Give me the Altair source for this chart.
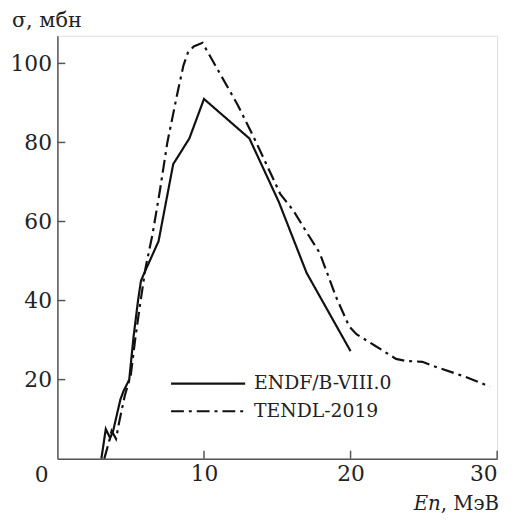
import altair as alt
import pandas as pd

# ---- data ----
series_names = ["ENDF/B-VIII.0", "TENDL-2019"]

endf_e = [3.0, 3.3, 3.6, 3.8, 4.3, 4.5, 4.9, 5.2, 5.5, 5.7, 6.05, 6.9, 7.9, 9.0, 10.0, 13.1, 15.1, 17.0, 20.0]
endf_s = [0.0, 7.5, 5.2, 7.0, 15.0, 17.0, 20.0, 31.0, 40.0, 45.0, 48.0, 55.0, 74.5, 81.0, 91.0, 81.0, 65.0, 47.0, 27.2]

tendl_e = [3.2, 3.5, 3.7, 4.0, 4.2, 4.6, 5.0, 5.3, 5.6, 6.0, 6.5, 7.0, 7.5, 8.2, 8.6, 8.9, 9.3, 9.9,
           12.3, 13.5, 15.2, 16.1, 16.8, 17.9, 19.0, 19.9, 20.4, 21.7, 23.1, 23.75, 24.9, 25.6, 27.8, 29.5]
tendl_s = [0.0, 4.0, 7.0, 5.0, 9.0, 16.0, 21.0, 30.0, 38.0, 48.0, 57.0, 68.0, 80.0, 92.7, 99.5, 102.7, 104.3, 105.2,
           89.5, 80.5, 67.0, 62.75, 58.5, 52.0, 41.0, 33.5, 31.5, 28.5, 25.25, 24.75, 24.5, 23.5, 20.75, 18.25]

x_ticks = [10, 20, 30]
y_ticks = [20, 40, 60, 80, 100]

df = pd.concat([
    pd.DataFrame({"E": endf_e, "S": endf_s, "series": series_names[0]}),
    pd.DataFrame({"E": tendl_e, "S": tendl_s, "series": series_names[1]}),
], ignore_index=True)
df["order"] = range(len(df))

FONT = "DejaVu Serif"
TXT = "#222222"
AX = "#555555"
W, H = 445, 428
TICK_FS = 22
TITLE_FS = 20
LEG_FS = 19

xs = alt.Scale(domain=[0, 30], nice=False)
ys = alt.Scale(domain=[0, 107], nice=False)

x_axis = alt.Axis(values=x_ticks, ticks=False, grid=False, title=None, domainColor=AX, domainWidth=1.5,
                  labelFont=FONT, labelFontSize=TICK_FS, labelColor=TXT, labelPadding=5)
y_axis = alt.Axis(values=y_ticks, ticks=False, grid=False, title=None, domainColor=AX, domainWidth=1.5,
                  labelFont=FONT, labelFontSize=TICK_FS, labelColor=TXT, labelPadding=6)

dash_scale = alt.Scale(domain=series_names, range=[[1, 0], [13, 5, 3, 5]])

lines = alt.Chart(df).mark_line(color="#111111", strokeWidth=2.2).encode(
    x=alt.X("E:Q", scale=xs, axis=x_axis),
    y=alt.Y("S:Q", scale=ys, axis=y_axis),
    strokeDash=alt.StrokeDash("series:N", scale=dash_scale, legend=None),
    order="order:Q",
)

# inward ticks
ytk = alt.Chart(pd.DataFrame({"S": y_ticks})).mark_rule(color=AX, strokeWidth=1.5).encode(
    y=alt.Y("S:Q", scale=ys, axis=y_axis), x=alt.value(0), x2=alt.value(8))
xtk = alt.Chart(pd.DataFrame({"E": x_ticks})).mark_rule(color=AX, strokeWidth=1.5).encode(
    x=alt.X("E:Q", scale=xs, axis=x_axis), y=alt.value(H), y2=alt.value(H - 8))

# origin label "0"
zero = alt.Chart(pd.DataFrame({"E": [0], "S": [0], "t": ["0"]})).mark_text(
    font=FONT, fontSize=TICK_FS, color=TXT, dx=-16, dy=17, baseline="middle", align="center").encode(
    x=alt.X("E:Q", scale=xs, axis=x_axis), y=alt.Y("S:Q", scale=ys, axis=y_axis), text="t:N")

one = pd.DataFrame({"a": [0]})
ytitle = alt.Chart(one).mark_text(text="σ, мбн", font=FONT, fontSize=21, color=TXT,
                                  align="left", baseline="alphabetic").encode(
    x=alt.value(-46), y=alt.value(-9))
xtitle_a = alt.Chart(one).mark_text(text="En", font=FONT, fontSize=TITLE_FS, fontStyle="italic", color=TXT,
                                    align="right", baseline="alphabetic").encode(
    x=alt.value(388), y=alt.value(480))
xtitle_b = alt.Chart(one).mark_text(text=", МэВ", font=FONT, fontSize=TITLE_FS, color=TXT,
                                    align="right", baseline="alphabetic").encode(
    x=alt.value(447), y=alt.value(480))

# manual legend
leg_rows = pd.DataFrame({"series": series_names, "row": [0, 1]})
leg_y = [352, 380]
leg_layers = []
for i, name in enumerate(series_names):
    d = leg_rows[leg_rows["row"] == i]
    leg_layers.append(alt.Chart(d).mark_rule(color="#111111", strokeWidth=2.2).encode(
        x=alt.value(115), x2=alt.value(190), y=alt.value(leg_y[i]),
        strokeDash=alt.StrokeDash("series:N", scale=dash_scale, legend=None)))
    leg_layers.append(alt.Chart(d).mark_text(font=FONT, fontSize=LEG_FS, color=TXT, align="left",
                                             baseline="middle").encode(
        x=alt.value(199), y=alt.value(leg_y[i]), text="series:N"))

chart = alt.layer(lines, ytk, xtk, zero, ytitle, xtitle_a, xtitle_b, *leg_layers).properties(
    width=W, height=H,
    padding={"left": 50, "top": 25, "right": 12, "bottom": 58},
    autosize=alt.AutoSizeParams(type="none"),
).configure_view(stroke=None).configure(background="white")

chart.save("out.html", embed_options={"renderer": "svg", "actions": False})
